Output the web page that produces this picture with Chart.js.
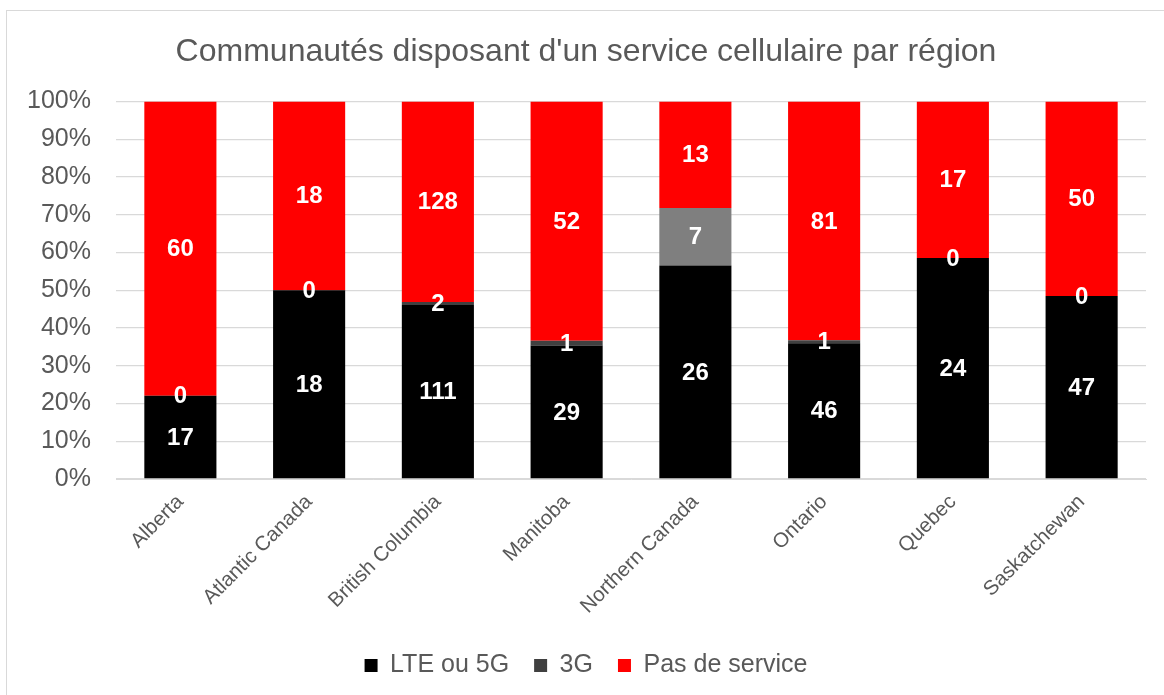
<!DOCTYPE html>
<html lang="fr">
<head>
<meta charset="utf-8">
<title>Communautés disposant d'un service cellulaire par région</title>
<script src="https://cdn.jsdelivr.net/npm/chart.js@4.4.1/dist/chart.umd.min.js"></script>
<style>
  html, body { margin: 0; padding: 0; background: #fff; overflow: hidden; }
  #wrap { position: relative; width: 1164px; height: 695px; }
  #frame {
    position: absolute; left: 6px; top: 10px;
    width: 2000px; height: 2000px;
    border: 1.5px solid #d9d9d9;
  }
  #chart { position: absolute; left: 0; top: 0; }
</style>
</head>
<body>
<div id="wrap">
  <div id="frame"></div>
  <canvas id="chart" width="1164" height="695"></canvas>
</div>
<script>
// ===== DATA =====
const regions = ["Alberta", "Atlantic Canada", "British Columbia", "Manitoba",
                 "Northern Canada", "Ontario", "Quebec", "Saskatchewan"];
const seriesNames = ["LTE ou 5G", "3G", "Pas de service"];
const lteCounts   = [17, 18, 111, 29, 26, 46, 24, 47];
const g3Counts    = [0, 0, 2, 1, 7, 1, 0, 0];
const noneCounts  = [60, 18, 128, 52, 13, 81, 17, 50];
const yTicks      = [0, 10, 20, 30, 40, 50, 60, 70, 80, 90, 100];

document.addEventListener("DOMContentLoaded", () => {

  const FONT = "'Liberation Sans', Arial, sans-serif";
  const GREY = "#595959";
  const counts = [lteCounts, g3Counts, noneCounts];

  // ===== 100% STACK =====
  const totals = regions.map((_, i) => lteCounts[i] + g3Counts[i] + noneCounts[i]);
  const pct = arr => arr.map((v, i) => v / totals[i] * 100);

  // ===== VALUE LABELS =====
  const valueLabels = {
    id: "valueLabels",
    afterDatasetsDraw(chart) {
      const ctx = chart.ctx;
      ctx.save();
      ctx.font = "bold 24px " + FONT;
      ctx.fillStyle = "#ffffff";
      ctx.textAlign = "center";
      ctx.textBaseline = "middle";
      chart.data.datasets.forEach((ds, i) => {
        chart.getDatasetMeta(i).data.forEach((bar, j) => {
          ctx.fillText(String(counts[i][j]), bar.x, (bar.y + bar.base) / 2 + 1);
        });
      });
      ctx.restore();
    }
  };

  new Chart(document.getElementById("chart"), {
    type: "bar",
    data: {
      labels: regions,
      datasets: [
        { label: seriesNames[0], data: pct(lteCounts), backgroundColor: "#000000" },
        { label: seriesNames[1], data: pct(g3Counts),
          backgroundColor: regions.map(r => r === "Northern Canada" ? "#7f7f7f" : "#404040") },
        { label: seriesNames[2], data: pct(noneCounts), backgroundColor: "#ff0000" }
      ]
    },
    options: {
      responsive: false,
      animation: false,
      devicePixelRatio: 1,
      categoryPercentage: 1,
      barPercentage: 0.56,
      layout: { padding: { top: 0, left: 26, right: 18, bottom: 7 } },
      plugins: {
        title: {
          display: true,
          text: "Communautés disposant d'un service cellulaire par région",
          color: GREY,
          font: { family: FONT, size: 32, weight: "normal" },
          padding: { top: 33, bottom: 30 }
        },
        legend: {
          position: "bottom",
          labels: {
            color: GREY,
            font: { family: FONT, size: 25 },
            boxWidth: 13,
            boxHeight: 13,
            padding: 25
          }
        },
        tooltip: { enabled: false }
      },
      scales: {
        x: {
          stacked: true,
          grid: { display: false, drawTicks: false },
          border: { color: "#d9d9d9" },
          ticks: {
            color: GREY,
            font: { family: FONT, size: 20.5 },
            minRotation: 45,
            maxRotation: 45,
            padding: 11
          },
          afterFit: s => { s.height = 149; }
        },
        y: {
          stacked: true,
          min: 0,
          max: 100,
          grid: { color: "#d9d9d9", lineWidth: 1.3, drawTicks: false },
          border: { display: false },
          afterBuildTicks: s => { s.ticks = yTicks.map(v => ({ value: v })); },
          ticks: {
            color: GREY,
            font: { family: FONT, size: 25 },
            padding: 25,
            callback: v => v + "%"
          },
          afterFit: s => { s.width = 90; }
        }
      }
    },
    plugins: [valueLabels]
  });
});
</script>
</body>
</html>
